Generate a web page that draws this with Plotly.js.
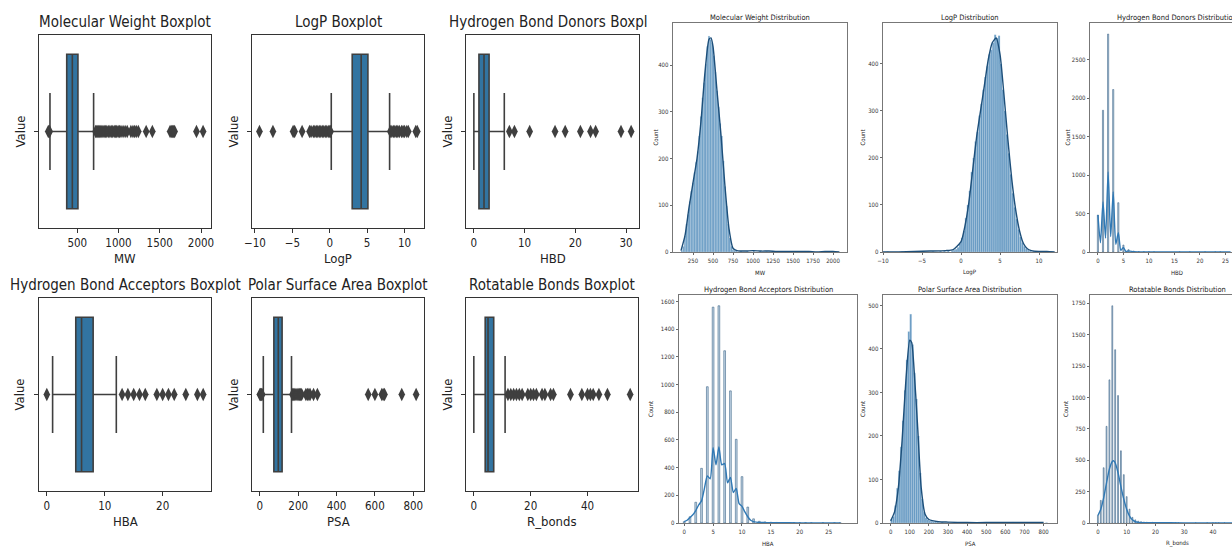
<!DOCTYPE html>
<html><head><meta charset="utf-8">
<script src="https://cdn.plot.ly/plotly-3.0.1.min.js"></script>
<style>html,body{margin:0;padding:0;background:#fff}#chart{width:1232px;height:548px}</style>
</head><body><div id="chart"></div>
<script>
// ================= DATA =================
// Boxplots: six descriptors
const boxVars   = ['MW', 'LogP', 'HBD', 'HBA', 'PSA', 'R_bonds'];
const boxTitles = ['Molecular Weight Boxplot', 'LogP Boxplot', 'Hydrogen Bond Donors Boxpl',
                   'Hydrogen Bond Acceptors Boxplot', 'Polar Surface Area Boxplot', 'Rotatable Bonds Boxplot'];
const boxQ1     = [372, 3.0, 1, 5, 73, 4];
const boxMedian = [440, 4.2, 2, 6, 96, 5];
const boxQ3     = [508, 5.1, 3, 8, 116, 7];
const boxLow    = [169, 0.2, 0, 1, 18, 0];
const boxHigh   = [698, 8.0, 6, 12, 165, 11];
const boxTicks  = [[500, 1000, 1500, 2000], [-10, -5, 0, 5, 10], [0, 10, 20, 30],
                   [0, 10, 20], [0, 200, 400, 600, 800], [0, 20, 40]];
const outliersMW   = [148, 158, 165, 722, 735, 748, 760, 772, 785, 798, 812, 826, 840, 858, 876, 895, 912, 930,
                      948, 962, 978, 995, 1012, 1030, 1055, 1080, 1105, 1150, 1175, 1195, 1215, 1240, 1335, 1410,
                      1625, 1640, 1655, 1668, 1680, 1945, 2025];
const outliersLogP = [-9.4, -7.6, -4.9, -4.7, -3.7, -2.7, -2.5, -2.2, -2.0, -1.8, -1.6, -1.4, -1.2, -1.0, -0.8,
                      -0.6, -0.4, -0.2, 0.0, 0.1, 8.1, 8.3, 8.5, 8.7, 8.9, 9.1, 9.3, 9.6, 9.8, 10.0, 10.3, 10.5, 11.5, 11.7];
const outliersHBD  = [7, 8, 11, 16, 18, 21, 23, 24, 29, 31];
const outliersHBA  = [0, 13, 14, 15, 16, 17, 19, 20, 21, 22, 24, 26, 27];
const outliersPSA  = [0, 3, 6, 9, 12, 170, 176, 182, 188, 194, 200, 206, 212, 218, 240, 248, 256, 262, 280, 300,
                      565, 600, 636, 643, 650, 740, 815];
const outliersRB   = [12, 13, 14, 15, 16, 17, 19, 20, 21, 22, 24, 25, 27, 28, 34, 38, 40, 41, 42, 44, 47, 55];

// Histograms (bin centres / counts) and KDE curves
const histTitles = ['Molecular Weight Distribution', 'LogP Distribution', 'Hydrogen Bond Donors Distribution',
                    'Hydrogen Bond Acceptors Distribution', 'Polar Surface Area Distribution', 'Rotatable Bonds Distribution'];
const mwBins   = [110,130,150,170,190,210,230,250,270,290,310,330,350,370,390,410,430,450,470,490,510,530,550,570,590,
                  610,630,650,670,690,710,730,750,770,790,850,930,1010,1090,1170,1250,1330,1410,1500,1650,1950,2030];
const mwCounts = [3,12,35,60,80,108,130,148,170,192,215,248,290,330,362,402,440,462,455,448,420,385,345,310,275,
                  248,195,140,98,60,30,12,5,3,2,2,2,3,2,1,2,1,1,1,2,1,1];
const mwKdeX = [100,150,200,250,300,350,400,450,475,500,550,600,650,700,750,800,900,1000,1100,1200,1300,1400,1500,1600,1700,1800,1900,2000,2080];
const mwKdeY = [3,35,95,148,200,280,385,455,458,440,345,250,140,50,8,3,2,3,2,2,1,1,1,1,1,0,1,1,0];

const logpBins   = [-9.4,-7.6,-4.8,-3.6,-2.625,-2.125,-1.625,-1.125,-0.875,-0.625,-0.375,-0.125,0.125,0.375,0.625,0.875,
                    1.125,1.375,1.625,1.875,2.125,2.375,2.625,2.875,3.125,3.375,3.625,3.875,4.125,4.375,4.625,4.875,
                    5.125,5.375,5.625,5.875,6.125,6.375,6.625,6.875,7.125,7.375,7.625,7.875,8.125,8.375,8.625,8.875,
                    9.375,9.875,10.375,11.625];
const logpCounts = [1,1,2,1,2,2,3,3,4,6,10,18,30,45,72,100,130,170,200,235,255,290,315,345,372,395,420,430,445,462,455,460,
                    400,345,300,250,210,165,125,95,70,48,32,20,12,7,4,2,2,1,1,1];
const logpKdeX = [-10,-8,-6,-4,-2,-1,0,0.5,1,1.5,2,2.5,3,3.5,4,4.5,5,5.5,6,6.5,7,7.5,8,8.5,9,10,11,12];
const logpKdeY = [0,0,1,2,3,5,22,55,105,175,245,300,355,410,445,455,420,335,240,155,90,45,18,7,3,1,1,0];

const hbdBins   = [0,1,2,3,4,5,6,7,8,9,10,11,16,18,21,23,24,29,31];
const hbdCounts = [480,1840,2830,2110,640,90,30,12,5,3,2,1,1,1,1,1,1,1,1];
const hbdKdeX = [0,0.5,1,1.5,2,2.5,3,3.5,4,4.5,5,5.5,6,7,8,10,15,20,26];
const hbdKdeY = [480,120,650,180,1040,200,780,100,250,20,60,5,15,3,1,0,0,0,0];

const hbaBins   = [0,1,2,3,4,5,6,7,8,9,10,11,12,13,14,15,16,17,19,20,21,22,24,26,27];
const hbaCounts = [10,45,150,395,985,1560,1570,1245,955,605,335,115,30,12,8,5,4,3,2,2,2,1,1,1,1];
const hbaKdeX = [0,0.5,1,1.5,2,2.5,3,3.5,4,4.5,5,5.5,6,6.5,7,7.5,8,8.5,9,9.5,10,10.5,11,11.5,12,13,14,16,20,27];
const hbaKdeY = [10,20,40,60,90,130,160,250,340,320,545,420,550,420,430,290,330,220,250,140,120,80,45,20,10,4,3,2,1,1];

const psaBins   = [5,15,25,35,45,55,65,75,85,95,105,115,125,135,145,155,165,175,185,195,205,215,225,235,245,
                   270,300,330,380,450,570,600,640,740,815];
const psaCounts = [8,15,40,80,120,175,235,305,375,440,480,410,345,285,200,115,55,25,12,8,5,4,3,3,2,2,1,1,1,1,1,1,2,1,1];
const psaKdeX = [0,20,40,60,80,100,110,120,140,160,180,200,250,300,400,500,600,700,800];
const psaKdeY = [5,25,80,190,330,420,415,370,230,80,20,8,3,2,1,1,1,1,1];

const rbBins   = [0,1,2,3,4,5,6,7,8,9,10,11,12,13,14,15,16,17,19,20,21,22,24,25,27,28,34,38,40,41,42,44,47];
const rbCounts = [60,180,440,770,1140,1730,1380,1015,575,385,210,110,45,25,15,10,8,6,5,4,3,3,2,2,2,1,1,1,1,1,1,1,1];
const rbKdeX = [0,1,2,3,4,5,5.5,6,7,8,9,10,11,12,13,14,16,20,30,40,48];
const rbKdeY = [60,110,200,320,430,490,495,480,400,290,190,110,55,25,10,5,3,2,1,1,0];

// ================= LAYOUT HELPERS =================
const W = 1232, H = 548;
const dx = (a, b) => [a / W, Math.min(b, W) / W];
const dy = (t, b) => [1 - b / H, 1 - t / H];
const BOXFONT = '"DejaVu Sans Condensed", "Liberation Sans", sans-serif';
const HFONT = '"DejaVu Sans Condensed", "Liberation Sans", sans-serif';

const layout = {
  width: W, height: H, margin: {l: 0, r: 0, t: 0, b: 0},
  paper_bgcolor: '#fff', plot_bgcolor: '#fff', showlegend: false,
  annotations: [], bargap: 0
};
const data = [];

function ann(text, xpx, ypx, size, family, opts) {
  layout.annotations.push(Object.assign({
    text: text, x: xpx / W, y: 1 - ypx / H, xref: 'paper', yref: 'paper',
    showarrow: false, font: {size: size, family: family, color: '#222'},
    xanchor: 'center', yanchor: 'middle'
  }, opts || {}));
}

// ---- Boxplot panels ----
const boxFrames = [[39, 211, 35, 228], [252, 424, 35, 228], [466, 639, 35, 228],
                   [39, 211, 298, 491], [252, 424, 298, 491], [466, 638, 298, 491]];
const boxRanges = [[36, 2121], [-10.4, 12.6], [-1.55, 32.55], [-1.35, 28.35], [-41, 856], [-2.75, 57.75]];
const boxOutliers = [outliersMW, outliersLogP, outliersHBD, outliersHBA, outliersPSA, outliersRB];
const boxValueX = [20, 233, 447, 19, 233, 447];

boxVars.forEach((v, i) => {
  const n = i + 1, f = boxFrames[i];
  const xa = 'xaxis' + n, ya = 'yaxis' + n;
  layout[xa] = {domain: dx(f[0], f[1]), range: boxRanges[i], anchor: 'y' + n,
    tickvals: boxTicks[i], ticks: 'outside', ticklen: 4, tickcolor: '#333',
    tickfont: {size: 11.5, family: BOXFONT, color: '#222'},
    showline: true, mirror: true, linecolor: '#333', linewidth: 1, showgrid: false, zeroline: false};
  layout[ya] = {domain: dy(f[2], f[3]), range: [-0.5, 0.5], anchor: 'x' + n,
    tickvals: [0], ticktext: [''], ticks: 'outside', ticklen: 4, tickcolor: '#333',
    showline: true, mirror: true, linecolor: '#333', linewidth: 1, showgrid: false, zeroline: false};
  data.push({type: 'box', orientation: 'h', y: [0], q1: [boxQ1[i]], median: [boxMedian[i]], q3: [boxQ3[i]],
    lowerfence: [boxLow[i]], upperfence: [boxHigh[i]], width: 0.8, whiskerwidth: 0.5,
    fillcolor: '#3274a1', line: {color: '#3f3f3f', width: 1.6}, boxpoints: false,
    xaxis: 'x' + n, yaxis: 'y' + n, hoverinfo: 'skip'});
  data.push({type: 'scatter', mode: 'markers', x: boxOutliers[i], y: boxOutliers[i].map(() => 0),
    marker: {symbol: 'diamond-tall', size: 9.5, color: '#3f3f3f'},
    xaxis: 'x' + n, yaxis: 'y' + n, hoverinfo: 'skip'});
  const cx = (f[0] + f[1]) / 2;
  if (i === 2) ann(boxTitles[i], 447, f[2] - 13, 15, BOXFONT, {xanchor: 'left'});
  else ann(boxTitles[i], cx, f[2] - 13, 15, BOXFONT);
  ann(v, cx, f[3] + 30, 13, BOXFONT);
  ann('Value', boxValueX[i], (f[2] + f[3]) / 2, 13, BOXFONT, {textangle: -90});
});

// ---- Histogram panels ----
const histFrames = [[673, 847, 23, 252], [883, 1057, 23, 252], [1090, 1264, 23, 252],
                    [679, 857, 295, 523], [883, 1057, 295, 523], [1090, 1264, 295, 523]];
const histXRange = [[0, 2175], [-10, 12.3], [-1.55, 32.55], [-0.9, 29.9], [-40, 870], [-2.75, 57.75]];
const histYRange = [[0, 490], [0, 487], [0, 2974], [0, 1648], [0, 524], [0, 1816]];
const histXTicks = [[250,500,750,1000,1250,1500,1750,2000], [-10,-5,0,5,10], [0,5,10,15,20,25,30],
                    [0,5,10,15,20,25], [0,100,200,300,400,500,600,700,800], [0,10,20,30,40,50]];
const histYTicks = [[0,100,200,300,400], [0,100,200,300,400], [0,500,1000,1500,2000,2500],
                    [0,200,400,600,800,1000,1200,1400,1600], [0,100,200,300,400,500], [0,250,500,750,1000,1250,1500,1750]];
const histBins = [mwBins, logpBins, hbdBins, hbaBins, psaBins, rbBins];
const histCounts = [mwCounts, logpCounts, hbdCounts, hbaCounts, psaCounts, rbCounts];
const histBinWidth = [20, 0.25, 0.22, 0.3, 10, 0.3];
const histKde = [[mwKdeX, mwKdeY], [logpKdeX, logpKdeY], [hbdKdeX, hbdKdeY],
                 [hbaKdeX, hbaKdeY], [psaKdeX, psaKdeY], [rbKdeX, rbKdeY]];
const continuous = [true, true, false, false, true, false];
const countX = [655, 862, 1067, 650, 862, 1065];

boxVars.forEach((v, i) => {
  const n = i + 7, f = histFrames[i];
  let xr = histXRange[i].slice();
  if (f[1] > W) xr[1] = xr[0] + (xr[1] - xr[0]) * (W - f[0]) / (f[1] - f[0]);
  layout['xaxis' + n] = {domain: dx(f[0], f[1]), range: xr, anchor: 'y' + n,
    tickvals: histXTicks[i], ticks: 'outside', ticklen: 2.5, tickcolor: '#444', tickwidth: 0.8,
    tickfont: {size: 6, family: HFONT, color: '#333'},
    showline: true, mirror: true, linecolor: '#555', linewidth: 0.8, showgrid: false, zeroline: false};
  layout['yaxis' + n] = {domain: dy(f[2], f[3]), range: histYRange[i], anchor: 'x' + n,
    tickvals: histYTicks[i], ticks: 'outside', ticklen: 2.5, tickcolor: '#444', tickwidth: 0.8,
    tickfont: {size: 6, family: HFONT, color: '#333'},
    showline: true, mirror: f[1] <= W, linecolor: '#555', linewidth: 0.8, showgrid: false, zeroline: false};
  data.push({type: 'bar', x: histBins[i], y: histCounts[i], width: histBinWidth[i],
    marker: continuous[i] ? {color: 'rgba(70,132,182,0.82)', line: {color: 'rgba(220,232,242,0.6)', width: 0.4}}
                          : {color: 'rgba(140,175,205,0.5)', line: {color: '#3d6488', width: 0.6}},
    xaxis: 'x' + n, yaxis: 'y' + n, hoverinfo: 'skip'});
  data.push({type: 'scatter', mode: 'lines', x: histKde[i][0], y: histKde[i][1],
    line: {color: continuous[i] ? '#1d4f7a' : '#3079b5', width: 1.4, shape: 'spline', smoothing: 0.6},
    xaxis: 'x' + n, yaxis: 'y' + n, hoverinfo: 'skip'});
  const cx = (f[0] + f[1]) / 2;
  ann(histTitles[i], cx, f[2] - 6, 7.5, HFONT);
  ann(v, cx, f[3] + 20, 6, HFONT);
  ann('Count', countX[i], (f[2] + f[3]) / 2, 6, HFONT, {textangle: -90});
});

Plotly.newPlot('chart', data, layout, {displayModeBar: false, staticPlot: true});
</script></body></html>
